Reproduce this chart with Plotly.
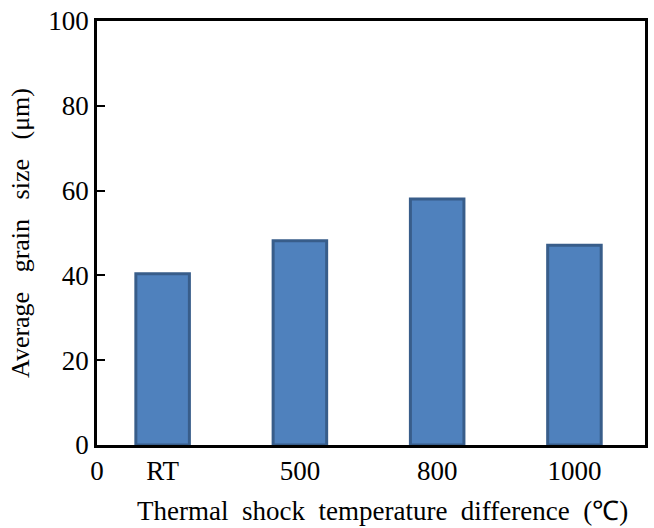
import plotly.graph_objects as go

categories = ["RT", "500", "800", "1000"]
grain_size = [40.4, 48.2, 58.0, 47.1]
y_ticks = [0, 20, 40, 60, 80, 100]

positions = list(range(1, len(categories) + 1))
x_left = 0.522
x_right = 4.514

fig = go.Figure()
fig.add_trace(go.Bar(
    x=positions,
    y=grain_size,
    width=0.39,
    marker=dict(color="#4F81BD", line=dict(color="#385D8A", width=3)),
    showlegend=False,
))

font_family = "Liberation Serif, Times New Roman, serif"
fig.update_layout(
    width=654, height=528,
    margin=dict(l=97, r=6, t=17, b=83),
    paper_bgcolor="white", plot_bgcolor="white",
    font=dict(family=font_family, size=26, color="black"),
    xaxis=dict(
        range=[x_left, x_right],
        tickvals=[x_left] + positions,
        ticktext=["0"] + categories,
        showline=True, mirror=True, linecolor="black", linewidth=2.5,
        ticks="", showgrid=False, zeroline=False,
        tickfont=dict(size=27),
    ),
    yaxis=dict(
        range=[0, 100],
        tickvals=y_ticks,
        showline=True, mirror=True, linecolor="black", linewidth=2.5,
        ticks="inside", ticklen=8, tickwidth=2, tickcolor="black",
        showgrid=False, zeroline=False,
        tickfont=dict(size=27),
        ticklabelstandoff=0,
        ticklabeloverflow="allow",
        title=dict(text="Average   grain   size   (μm)", font=dict(size=26), standoff=12),
    ),
    annotations=[dict(
        text="Thermal  shock  temperature  difference  (℃)",
        xref="paper", yref="paper", x=0.521, y=-0.1565,
        xanchor="center", yanchor="middle", showarrow=False,
        font=dict(size=27),
    )],
)

fig.write_html(
    "out.html",
    config={"displayModeBar": False},
    post_script="document.body.style.margin='0';document.body.style.overflow='hidden';",
)
